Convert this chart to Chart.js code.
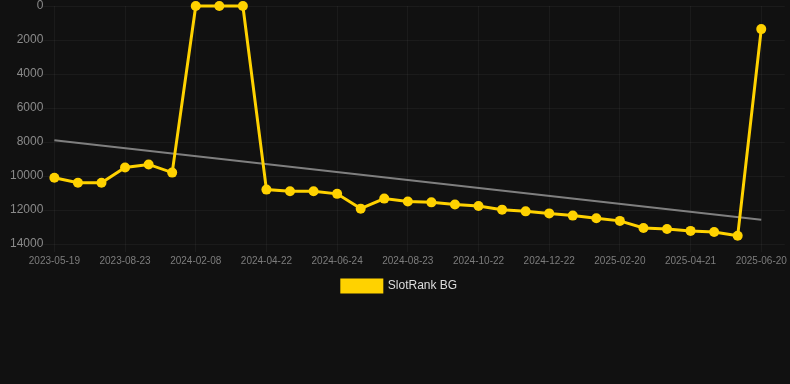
<!DOCTYPE html>
<html lang="en">
<head>
    <meta charset="UTF-8">
    <title>SlotRank BG</title>
    <style>
        html, body {
            margin: 0;
            padding: 0;
            background-color: #111111;
        }
        .chart-container {
            width: 790px;
            height: 384px;
        }
    </style>
</head>
<body>
    <div class="chart-container">
        <canvas id="rankChart"></canvas>
    </div>
    <script src="https://cdn.jsdelivr.net/npm/chart.js"></script>
    <script>
        // dates of each rank snapshot (last one is an empty slot on the axis)
        const dates = [
            '2023-05-19', '2023-06-20', '2023-07-22', '2023-08-23', '2023-10-10', '2023-11-28',
            '2024-02-08', '2024-03-03', '2024-03-28', '2024-04-22', '2024-05-13', '2024-06-03',
            '2024-06-24', '2024-07-14', '2024-08-03', '2024-08-23', '2024-09-12', '2024-10-02',
            '2024-10-22', '2024-11-11', '2024-12-02', '2024-12-22', '2025-01-11', '2025-01-31',
            '2025-02-20', '2025-03-12', '2025-04-01', '2025-04-21', '2025-05-11', '2025-05-31',
            '2025-06-20', '2025-07-10'
        ];
        const rank = [
            10100, 10400, 10400, 9500, 9320, 9800,
            1, 1, 1, 10800, 10900, 10900,
            11050, 11920, 11330, 11500, 11550, 11680,
            11760, 11980, 12080, 12200, 12330, 12490,
            12640, 13060, 13120, 13230, 13290, 13510,
            1360
        ];
        // trend line, read at its two ends
        const trend = [7900].concat(new Array(29).fill(null), [12580]);
        const yTicks = [0, 2000, 4000, 6000, 8000, 10000, 12000, 14000];

        const ctx = document.getElementById('rankChart').getContext('2d');
        new Chart(ctx, {
            type: 'line',
            data: {
                labels: dates,
                datasets: [
                    {
                        label: 'SlotRank BG',
                        data: rank,
                        borderColor: '#ffd200',
                        backgroundColor: '#ffd200',
                        borderWidth: 3,
                        pointRadius: 5,
                        pointBackgroundColor: '#ffd200',
                        pointBorderWidth: 0,
                        tension: 0,
                        clip: false
                    },
                    {
                        label: 'trend',
                        data: trend,
                        borderColor: 'rgba(140, 140, 140, 0.9)',
                        borderWidth: 2,
                        pointRadius: 0,
                        spanGaps: true,
                        tension: 0
                    }
                ]
            },
            options: {
                responsive: true,
                maintainAspectRatio: false,
                animation: false,
                layout: {
                    padding: { left: 10, right: 1, top: 0, bottom: 82 }
                },
                scales: {
                    x: {
                        grid: { color: 'rgba(255, 255, 255, 0.045)' },
                        border: { display: false },
                        ticks: {
                            color: '#7d7d7d',
                            font: { size: 10, family: 'Arial, "Liberation Sans", sans-serif' },
                            maxRotation: 0,
                            autoSkip: true,
                            maxTicksLimit: 11
                        }
                    },
                    y: {
                        reverse: true,
                        min: 0,
                        max: 14000,
                        grid: { color: 'rgba(255, 255, 255, 0.045)', tickLength: 11 },
                        border: { display: false },
                        afterBuildTicks: axis => {
                            axis.ticks = yTicks.map(v => ({ value: v }));
                        },
                        ticks: {
                            color: '#8a8a8a',
                            padding: 0,
                            font: { size: 12, lineHeight: 1, family: 'Arial, "Liberation Sans", sans-serif' },
                            callback: value => String(value)
                        }
                    }
                },
                plugins: {
                    legend: {
                        position: 'bottom',
                        labels: {
                            color: '#dddddd',
                            boxWidth: 40,
                            boxHeight: 12,
                            font: { size: 12, family: 'Arial, "Liberation Sans", sans-serif' },
                            filter: item => item.text !== 'trend'
                        }
                    },
                    tooltip: { enabled: false }
                }
            }
        });
    </script>
</body>
</html>
